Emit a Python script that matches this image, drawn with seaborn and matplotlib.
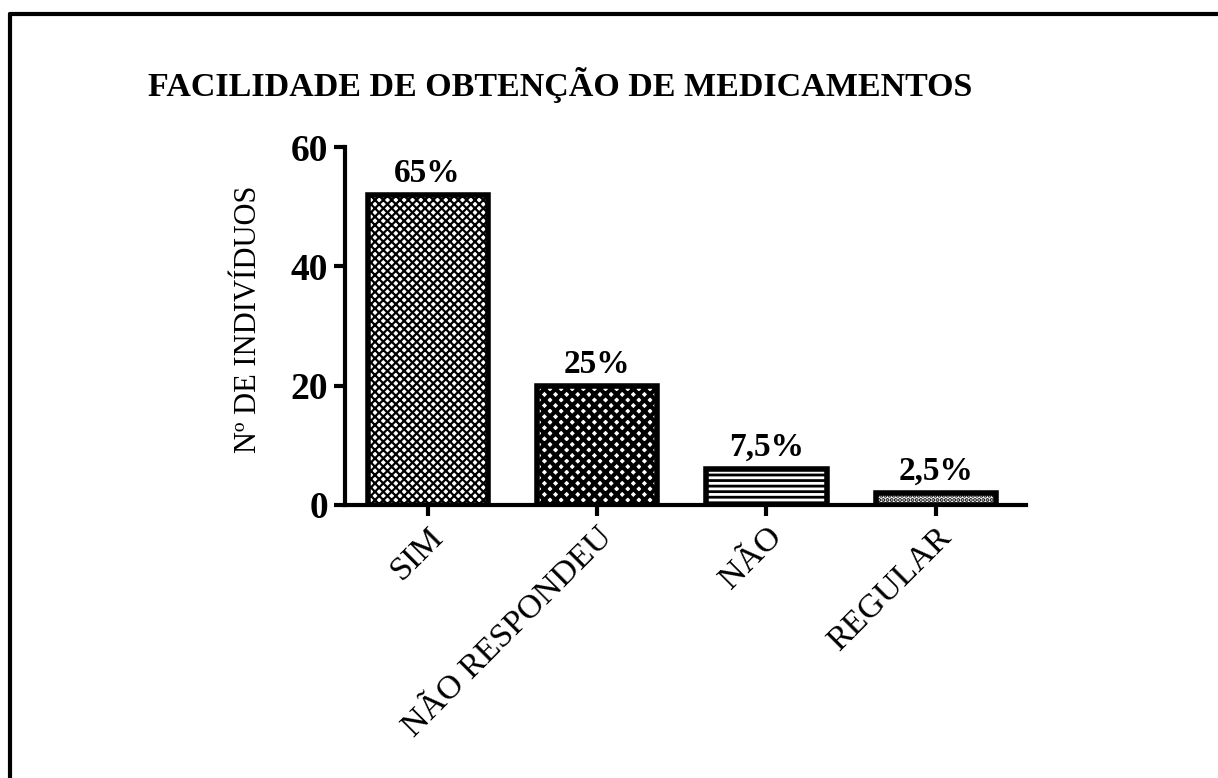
import matplotlib
matplotlib.use("Agg")
import matplotlib.pyplot as plt
import seaborn as sns
from matplotlib.lines import Line2D

categorias = ["SIM", "NÃO RESPONDEU", "NÃO", "REGULAR"]
valores = [52, 20, 6, 2]
percentuais = ["65%", "25%", "7,5%", "2,5%"]
hachuras = ["xxxx", "xxx", "---", "...."]
espessura_hachura = [1.6, 3.0, 2.0, 2.0]
yticks = [0, 20, 40, 60]

sns.set_theme(style="ticks")
plt.rcParams["font.family"] = ["Liberation Serif", "DejaVu Serif"]
plt.rcParams["text.color"] = "black"
plt.rcParams["axes.labelcolor"] = "black"
plt.rcParams["xtick.color"] = "black"
plt.rcParams["ytick.color"] = "black"
plt.rcParams["hatch.linewidth"] = 2.0

fig = plt.figure(figsize=(12.18, 7.78), dpi=100)
ax = fig.add_axes([0.283, 0.351, 0.559, 0.460])

sns.barplot(x=categorias, y=valores, color="white", edgecolor="black",
            linewidth=4, width=0.71, ax=ax, saturation=1)

for patch, h, lw in zip(ax.patches, hachuras, espessura_hachura):
    patch.set_hatch(h)
    if hasattr(patch, "set_hatch_linewidth"):
        patch.set_hatch_linewidth(lw)
    else:
        patch._hatch_linewidth = lw

for i, (v, p) in enumerate(zip(valores, percentuais)):
    ax.text(i, v + 1.0, p, ha="center", va="bottom", fontsize=24,
            fontweight="bold")

ax.set_xlim(-0.49, 3.53)
ax.set_ylim(0, 60)
ax.set_yticks(yticks)
ax.set_yticklabels([str(t) for t in yticks], fontsize=27, fontweight="bold")
ax.set_xticks(range(len(categorias)))
ax.set_xticklabels(categorias, rotation=45, ha="right", rotation_mode="anchor",
                   fontsize=24.5)
ax.set_ylabel("Nº DE INDIVÍDUOS", fontsize=22)
ax.yaxis.set_label_coords(-0.12, 0.52)
ax.set_xlabel("")

sns.despine(ax=ax)
for s in ["left", "bottom"]:
    ax.spines[s].set_linewidth(3)
    ax.spines[s].set_color("black")
ax.tick_params(axis="both", length=8, width=3, color="black", direction="out",
               pad=4)

fig.text(148 / 1218, 1 - 85 / 778, "FACILIDADE DE OBTENÇÃO DE MEDICAMENTOS",
         ha="left", va="center", fontsize=24.5, fontweight="bold")

# moldura (somente topo e esquerda, como no original)
fig.add_artist(Line2D([10 / 1218, 1], [1 - 14 / 778, 1 - 14 / 778],
                      transform=fig.transFigure, color="black", lw=3))
fig.add_artist(Line2D([10 / 1218, 10 / 1218], [0, 1 - 14 / 778],
                      transform=fig.transFigure, color="black", lw=3))

fig.savefig("out.png", dpi=100, facecolor="white")
